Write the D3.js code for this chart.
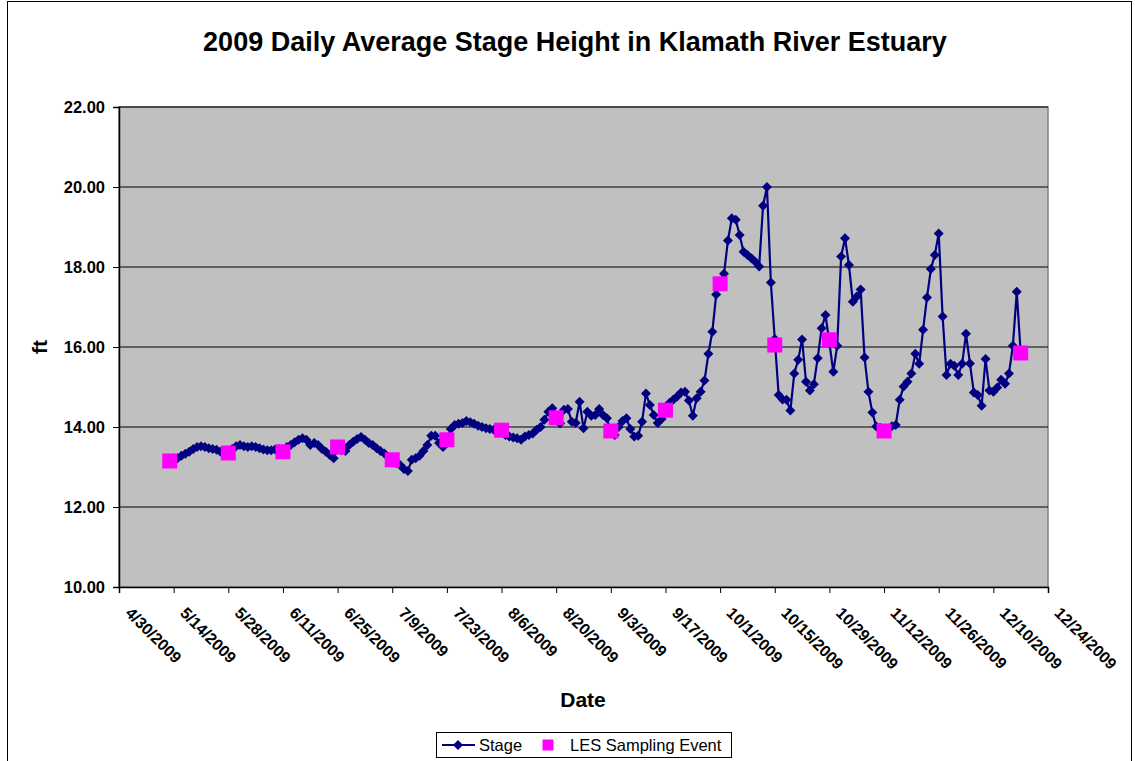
<!DOCTYPE html>
<html>
<head>
<meta charset="utf-8">
<script src="https://cdn.jsdelivr.net/npm/d3@7/dist/d3.min.js"></script>
<style>
  body { margin:0; background:#fff; }
  text { font-family: Arial, "Liberation Sans", sans-serif; }
</style>
</head>
<body>
<script>
  // daily stage values (ft), one per day starting 5/13/2009
  const stageStart = "5/13/2009";
  const stageValues = [
    13.2, 13.22, 13.22, 13.28, 13.33, 13.38, 13.45, 13.5, 13.52, 13.5,
    13.47, 13.45, 13.43, 13.38, 13.35, 13.38, 13.45, 13.52, 13.55, 13.52,
    13.5, 13.52, 13.5, 13.47, 13.44, 13.42, 13.42, 13.44, 13.45, 13.42,
    13.5, 13.55, 13.62, 13.68, 13.72, 13.68, 13.55, 13.6, 13.55, 13.45,
    13.38, 13.3, 13.22, 13.45, 13.42, 13.4, 13.55, 13.63, 13.7, 13.75,
    13.68, 13.6, 13.55, 13.47, 13.4, 13.34, 13.25, 13.18, 13.1, 13.05,
    12.95, 12.9, 13.18, 13.22, 13.28, 13.4, 13.55, 13.78, 13.78, 13.6,
    13.5, 13.68, 13.95, 14.05, 14.08, 14.1, 14.15, 14.12, 14.08, 14.03,
    14.0, 13.97, 13.95, 13.93, 13.92, 13.9, 13.8, 13.76, 13.74, 13.72,
    13.68, 13.76, 13.8, 13.84, 13.93, 14.0, 14.18, 14.38, 14.47, 14.25,
    14.09, 14.43, 14.45, 14.13, 14.1, 14.63, 13.97, 14.38, 14.28, 14.3,
    14.45, 14.3, 14.22, 13.85, 13.8, 14.0, 14.15, 14.22, 13.95, 13.76,
    13.78, 14.13, 14.84, 14.55, 14.3, 14.1, 14.2, 14.45, 14.6, 14.68,
    14.76, 14.86, 14.88, 14.66, 14.28, 14.72, 14.88, 15.16, 15.83, 16.38,
    17.31, 17.6, 17.83, 18.66, 19.22, 19.18, 18.8, 18.38, 18.3, 18.22,
    18.13, 18.01, 19.53, 20.0, 17.61, 16.2, 14.8, 14.69, 14.68, 14.41,
    15.34, 15.68, 16.19, 15.13, 14.91, 15.07, 15.72, 16.47, 16.8, 16.1,
    15.38, 16.03, 18.26, 18.72, 18.05, 17.13, 17.26, 17.44, 15.74, 14.88,
    14.36, 14.01, 13.98, 13.92, 13.95, 14.02, 14.05, 14.68, 15.01, 15.13,
    15.34, 15.83, 15.58, 16.43, 17.24, 17.95, 18.3, 18.84, 16.76, 15.3,
    15.58, 15.53, 15.3, 15.58, 16.33, 15.59, 14.86, 14.8, 14.53, 15.7,
    14.91, 14.88, 14.99, 15.18, 15.08, 15.34, 16.03, 17.38, 15.85
  ];

  // LES sampling events
  const samplingDates = ["5/13/2009","5/28/2009","6/11/2009","6/25/2009","7/9/2009",
    "7/23/2009","8/6/2009","8/20/2009","9/3/2009","9/17/2009","10/1/2009",
    "10/15/2009","10/29/2009","11/12/2009","12/17/2009"];
  const samplingValues = [13.15, 13.35, 13.38, 13.5, 13.18, 13.68, 13.92, 14.23,
    13.9, 14.42, 17.58, 16.05, 16.18, 13.9, 15.85];

  const xTickLabels = ["4/30/2009","5/14/2009","5/28/2009","6/11/2009","6/25/2009",
    "7/9/2009","7/23/2009","8/6/2009","8/20/2009","9/3/2009","9/17/2009",
    "10/1/2009","10/15/2009","10/29/2009","11/12/2009","11/26/2009",
    "12/10/2009","12/24/2009"];
  const yTicks = [10, 12, 14, 16, 18, 20, 22];

  const W = 1135, H = 761;
  const plot = {left:119, right:1048, top:107, bottom:587};

  const parse = d3.timeParse("%m/%d/%Y");
  const fmt = d3.timeFormat("%-m/%-d/%Y");

  const t0 = parse(stageStart);
  const stage = stageValues.map((v, i) => ({date: d3.timeDay.offset(t0, i), v: v}));
  const samples = samplingDates.map((d, i) => ({date: parse(d), v: samplingValues[i]}));
  const tickDates = xTickLabels.map(parse);

  const x = d3.scaleTime()
      .domain([tickDates[0], tickDates[tickDates.length - 1]])
      .range([plot.left, plot.right]);
  const y = d3.scaleLinear().domain([10, 22]).range([plot.bottom, plot.top]);

  const svg = d3.select("body").append("svg")
      .attr("width", W).attr("height", H);

  // outer chart border
  svg.append("rect")
      .attr("x", 7.5).attr("y", 1.5)
      .attr("width", 1124).attr("height", 800)
      .attr("fill", "none").attr("stroke", "#000").attr("stroke-width", 1);

  // plot area
  svg.append("rect")
      .attr("x", plot.left).attr("y", plot.top)
      .attr("width", plot.right - plot.left).attr("height", plot.bottom - plot.top)
      .attr("fill", "#C0C0C0").attr("stroke", "#808080").attr("stroke-width", 1.5);

  // gridlines
  svg.append("g").selectAll("line")
      .data(yTicks.slice(1))
      .enter().append("line")
      .attr("x1", plot.left).attr("x2", plot.right)
      .attr("y1", d => y(d)).attr("y2", d => y(d))
      .attr("stroke", "#000").attr("stroke-width", 1);

  // y axis
  const yAxis = svg.append("g")
      .attr("transform", "translate(" + plot.left + ",0)")
      .call(d3.axisLeft(y).tickValues(yTicks).tickFormat(d3.format(".2f"))
            .tickSize(6).tickPadding(8));
  yAxis.select(".domain").attr("stroke", "#000").attr("stroke-width", 1.5);
  yAxis.selectAll("text")
      .attr("font-size", 16.5).attr("font-weight", "bold").attr("fill", "#000")
      .attr("font-family", "Arial, 'Liberation Sans', sans-serif");

  // x axis
  const xAxis = svg.append("g")
      .attr("transform", "translate(0," + plot.bottom + ")")
      .call(d3.axisBottom(x).tickValues(tickDates).tickFormat(fmt).tickSize(6));
  xAxis.select(".domain").attr("stroke", "#000").attr("stroke-width", 1.5);
  xAxis.selectAll("text")
      .attr("x", null).attr("y", null).attr("dy", null)
      .attr("text-anchor", "start")
      .attr("transform", "translate(5,27) rotate(45)")
      .attr("font-size", 16).attr("font-weight", "bold").attr("fill", "#000")
      .attr("font-family", "Arial, 'Liberation Sans', sans-serif");

  // stage line
  svg.append("path")
      .datum(stage)
      .attr("fill", "none")
      .attr("stroke", "#000080")
      .attr("stroke-width", 2.2)
      .attr("d", d3.line().x(d => x(d.date)).y(d => y(d.v)));

  const diamond = "M0,-5L5,0L0,5L-5,0Z";
  svg.append("g").selectAll("path")
      .data(stage)
      .enter().append("path")
      .attr("d", diamond)
      .attr("transform", d => "translate(" + x(d.date) + "," + y(d.v) + ")")
      .attr("fill", "#000080");

  // sampling events
  svg.append("g").selectAll("rect")
      .data(samples)
      .enter().append("rect")
      .attr("x", d => x(d.date) - 7.5)
      .attr("y", d => y(d.v) - 7.5)
      .attr("width", 15).attr("height", 15)
      .attr("fill", "#FF00FF");

  // titles
  svg.append("text")
      .attr("x", 575).attr("y", 51)
      .attr("text-anchor", "middle")
      .attr("font-size", 27).attr("font-weight", "bold")
      .text("2009 Daily Average Stage Height in Klamath River Estuary");

  svg.append("text")
      .attr("transform", "translate(47,347) rotate(-90)")
      .attr("text-anchor", "middle")
      .attr("font-size", 21).attr("font-weight", "bold")
      .text("ft");

  svg.append("text")
      .attr("x", 583).attr("y", 707)
      .attr("text-anchor", "middle")
      .attr("font-size", 21).attr("font-weight", "bold")
      .text("Date");

  // legend
  const lg = svg.append("g");
  lg.append("rect")
      .attr("x", 436.5).attr("y", 732.5).attr("width", 295).attr("height", 25)
      .attr("fill", "#fff").attr("stroke", "#000");
  lg.append("line")
      .attr("x1", 442).attr("x2", 475).attr("y1", 745).attr("y2", 745)
      .attr("stroke", "#000080").attr("stroke-width", 2);
  lg.append("path").attr("d", diamond)
      .attr("transform", "translate(458,745)").attr("fill", "#000080");
  lg.append("text").attr("x", 479).attr("y", 751)
      .attr("font-size", 16.5).text("Stage");
  lg.append("rect")
      .attr("x", 542.5).attr("y", 739.5).attr("width", 11).attr("height", 11)
      .attr("fill", "#FF00FF");
  lg.append("text").attr("x", 570).attr("y", 751)
      .attr("font-size", 16.5).text("LES Sampling Event");
</script>
</body>
</html>
